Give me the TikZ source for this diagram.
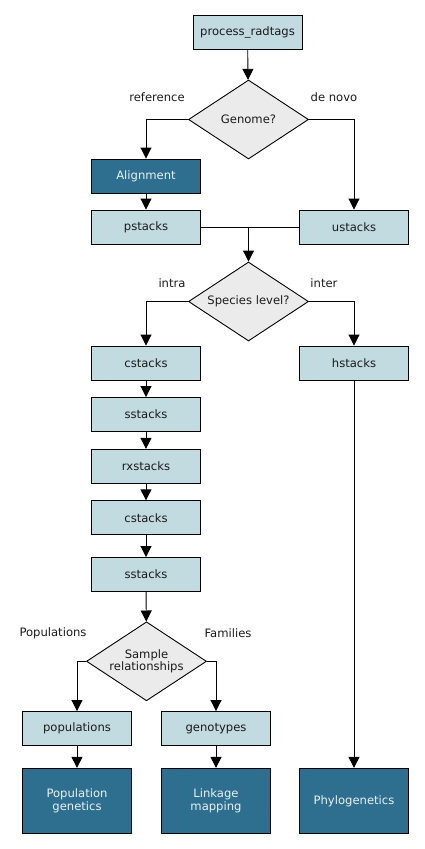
\documentclass[tikz,border=0pt]{standalone}
\usepackage{fontspec}
\setmainfont{DejaVu Sans}
\usetikzlibrary{arrows.meta,shapes.geometric}
\definecolor{ink}{HTML}{1A1A1A}
\definecolor{stepfill}{HTML}{C2DBE0}
\definecolor{goalfill}{HTML}{2E6E8E}
\definecolor{goaltext}{HTML}{E8F2F4}
\definecolor{askfill}{HTML}{EBEBEB}
\newcommand{\flowfont}{\fontsize{11.6}{13.6}\selectfont}
\tikzset{
 every node/.append style={font=\flowfont,text=ink,align=center},
 tool/.style={draw=black,fill=stepfill,line width=.9pt,minimum width=109pt,minimum height=34pt,inner sep=2pt},
 goal/.style={tool,fill=goalfill,text=goaltext},
 outcome/.style={goal,minimum height=65pt},
 decision/.style={diamond,aspect=1.5,draw=black,fill=askfill,line width=.9pt,inner sep=0pt,minimum width=120pt,minimum height=79pt},
 choice/.style={inner sep=1pt},
 arrow/.style={-{Triangle[length=11pt,width=11pt]},draw=black,line width=.9pt},
 link/.style={draw=black,line width=.9pt},
}

\begin{document}
\begin{tikzpicture}[x=1pt,y=-1pt]

\useasboundingbox (0,0) rectangle (424,849);
\node[tool] (radtags) at (247.5,32) {process\_radtags};
\node[decision] (genome) at (248.5,119.5) {Genome?};
\draw[arrow] (radtags) -- (genome);

\node[choice] (refl) at (157,97) {reference};
\node[choice] (novol) at (334,97) {de novo};
\node[goal] (align) at (146,176) {Alignment};
\node[tool] (pstacks) at (146,227) {pstacks};
\node[tool] (ustacks) at (354,227) {ustacks};
\draw[arrow] (genome.west) -| (align.north);
\draw[arrow] (genome.east) -| (ustacks.north);
\draw[arrow] (align) -- (pstacks);

\node[decision] (species) at (248.5,301.5) {Species level?};
\draw[link] (pstacks.east) -- (ustacks.west);
\draw[arrow] (pstacks.east -| species.north) -- (species.north);

\node[choice] (intral) at (172,283) {intra};
\node[choice] (interl) at (324,283) {inter};
\node[tool] (cstacksA) at (146,363) {cstacks};
\node[tool] (hstacks) at (354,363) {hstacks};
\draw[arrow] (species.west) -| (cstacksA.north);
\draw[arrow] (species.east) -| (hstacks.north);

% intra-species chain
\node[tool] (sstacksA) at (146,414.5) {sstacks};
\node[tool] (rxstacks) at (146,466.3) {rxstacks};
\node[tool] (cstacksB) at (146,517.8) {cstacks};
\node[tool] (sstacksB) at (146,574.5) {sstacks};
\draw[arrow] (cstacksA) -- (sstacksA);
\draw[arrow] (sstacksA) -- (rxstacks);
\draw[arrow] (rxstacks) -- (cstacksB);
\draw[arrow] (cstacksB) -- (sstacksB);

\node[decision] (sample) at (146.5,661.3) {Sample\\[-1pt]relationships};
\draw[arrow] (sstacksB) -- (sample);

\node[choice] (popl) at (53,633) {Populations};
\node[choice] (faml) at (228,633) {Families};
\node[tool] (pop) at (77,728.5) {populations};
\node[tool] (geno) at (216,728.5) {genotypes};
\draw[arrow] (sample.west) -| (pop.north);
\draw[arrow] (sample.east) -| (geno.north);

\node[outcome] (popgen) at (77,800.8) {Population\\[-1pt]genetics};
\node[outcome] (linkage) at (216,800.8) {Linkage\\[-1pt]mapping};
\node[outcome] (phylo) at (354,800.8) {Phylogenetics};
\draw[arrow] (pop) -- (popgen);
\draw[arrow] (geno) -- (linkage);
\draw[arrow] (hstacks) -- (phylo);

\end{tikzpicture}
\end{document}
